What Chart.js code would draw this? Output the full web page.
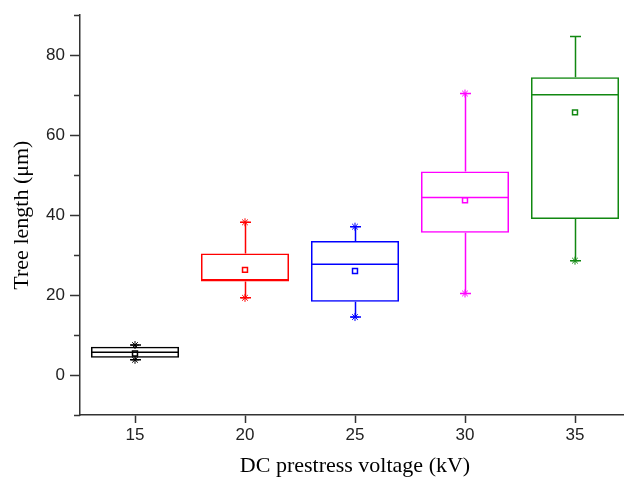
<!DOCTYPE html>
<html>
<head>
<meta charset="utf-8">
<script src="https://cdn.jsdelivr.net/npm/chart.js@4/dist/chart.umd.min.js"></script>
<style>
  html, body { margin: 0; padding: 0; overflow: hidden; background: #fff; }
  #wrap { width: 640px; height: 481px; position: relative; }
</style>
</head>
<body>
<div id="wrap"><canvas id="chart"></canvas></div>
<script>
// Box plot data (tree length in um)
const voltages = [15, 20, 25, 30, 35];
const whiskerLow = [3.8, 19.3, 14.5, 20.4, 28.6];
const q1 = [4.3, 23.4, 18.3, 35.6, 39.0];
const median = [5.7, 23.8, 27.7, 44.4, 70.1];
const q3 = [7.1, 30.4, 33.5, 50.9, 74.5];
const whiskerHigh = [7.5, 38.2, 37.1, 70.4, 84.7];
const means = [5.4, 26.3, 26.0, 43.7, 65.7];
const minMarks = [3.8, 19.3, 14.5, 20.4, 28.6];
const maxMarks = [7.5, 38.2, 37.1, 70.4, null];

const yTicks = [0, 20, 40, 60, 80];
const yMinorTicks = [-10, 10, 30, 50, 70, 90];

const colors = ['#000000', '#ff0000', '#0000ff', '#ff00ff', '#118811'];
const axisColor = '#333333';

// whiskers, caps and median lines
const boxExtras = {
    id: 'boxExtras',
    afterDatasetsDraw(chart) {
        const ctx = chart.ctx;
        const y = chart.scales.y;
        const bars = chart.getDatasetMeta(0).data;
        ctx.save();
        ctx.lineWidth = 1.5;
        bars.forEach((bar, i) => {
            const cx = Math.round(bar.x) + 0.5;
            const half = bar.width / 2;
            ctx.strokeStyle = colors[i];
            ctx.beginPath();
            ctx.moveTo(cx, y.getPixelForValue(q3[i]));
            ctx.lineTo(cx, y.getPixelForValue(whiskerHigh[i]));
            ctx.moveTo(cx, y.getPixelForValue(q1[i]));
            ctx.lineTo(cx, y.getPixelForValue(whiskerLow[i]));
            // caps
            [whiskerHigh[i], whiskerLow[i]].forEach(v => {
                const py = y.getPixelForValue(v);
                ctx.moveTo(cx - 5.5, py);
                ctx.lineTo(cx + 5.5, py);
            });
            // median
            const pm = y.getPixelForValue(median[i]);
            ctx.moveTo(bar.x - half, pm);
            ctx.lineTo(bar.x + half, pm);
            ctx.stroke();
        });
        ctx.restore();
    }
};

// minor ticks on the y axis
const minorTicks = {
    id: 'minorTicks',
    afterDraw(chart) {
        const ctx = chart.ctx;
        const y = chart.scales.y;
        const left = chart.chartArea.left;
        ctx.save();
        ctx.strokeStyle = axisColor;
        ctx.lineWidth = 1.5;
        ctx.beginPath();
        yMinorTicks.forEach(v => {
            const py = Math.round(y.getPixelForValue(v)) + 0.5;
            ctx.moveTo(left - 6, py);
            ctx.lineTo(left, py);
        });
        ctx.stroke();
        ctx.restore();
    }
};

const tickFont = { family: '"Liberation Sans", Arial, sans-serif', size: 17 };
const titleFont = { family: '"Liberation Serif", "Times New Roman", serif', size: 22 };

new Chart(document.getElementById('chart'), {
    type: 'bar',
    data: {
        datasets: [
            {
                type: 'bar',
                data: voltages.map((v, i) => ({ x: v, y: [q1[i], q3[i]] })),
                backgroundColor: 'rgba(0,0,0,0)',
                borderColor: colors,
                borderWidth: 1.5,
                borderSkipped: false,
                categoryPercentage: 0.8,
                barPercentage: 1.0,
                grouped: false
            },
            {
                type: 'scatter',
                data: voltages.map((v, i) => ({ x: v, y: means[i] })),
                pointStyle: 'rect',
                pointRadius: 3.5,
                borderWidth: 1.5,
                borderColor: colors,
                backgroundColor: '#ffffff'
            },
            {
                type: 'scatter',
                data: voltages.map((v, i) => ({ x: v, y: minMarks[i] }))
                    .concat(voltages.map((v, i) => ({ x: v, y: maxMarks[i] }))),
                pointStyle: 'star',
                pointRadius: 4,
                borderWidth: 1,
                borderColor: colors.concat(colors),
                backgroundColor: 'rgba(0,0,0,0)'
            }
        ]
    },
    options: {
        responsive: true,
        maintainAspectRatio: false,
        animation: false,
        layout: { padding: { top: 10, right: 10, left: 0, bottom: 0 } },
        plugins: {
            legend: { display: false },
            tooltip: { enabled: false }
        },
        scales: {
            x: {
                type: 'linear',
                min: 12.5,
                max: 37.5,
                offset: false,
                afterFit(scale) { scale.height = 66; },
                afterBuildTicks(scale) { scale.ticks = voltages.map(v => ({ value: v })); },
                grid: {
                    drawOnChartArea: false,
                    drawTicks: true,
                    tickLength: 8,
                    tickColor: axisColor,
                    tickWidth: 1.5,
                    offset: false
                },
                border: { display: true, color: axisColor, width: 1.5 },
                ticks: { color: '#222', font: tickFont, padding: 2, maxRotation: 0 },
                title: {
                    display: true,
                    text: 'DC prestress voltage (kV)',
                    color: '#000',
                    font: titleFont,
                    padding: { top: 0, bottom: 2 }
                }
            },
            y: {
                type: 'linear',
                min: -10,
                max: 90,
                afterFit(scale) { scale.width = 80; },
                afterBuildTicks(scale) { scale.ticks = yTicks.map(v => ({ value: v })); },
                grid: {
                    drawOnChartArea: false,
                    drawTicks: true,
                    tickLength: 10,
                    tickColor: axisColor,
                    tickWidth: 1.5
                },
                border: { display: true, color: axisColor, width: 1.5 },
                ticks: { color: '#222', font: tickFont, padding: 5 },
                title: {
                    display: true,
                    text: 'Tree length (μm)',
                    color: '#000',
                    font: titleFont,
                    padding: { top: 9, bottom: 0 }
                }
            }
        }
    },
    plugins: [boxExtras, minorTicks]
});
</script>
</body>
</html>
